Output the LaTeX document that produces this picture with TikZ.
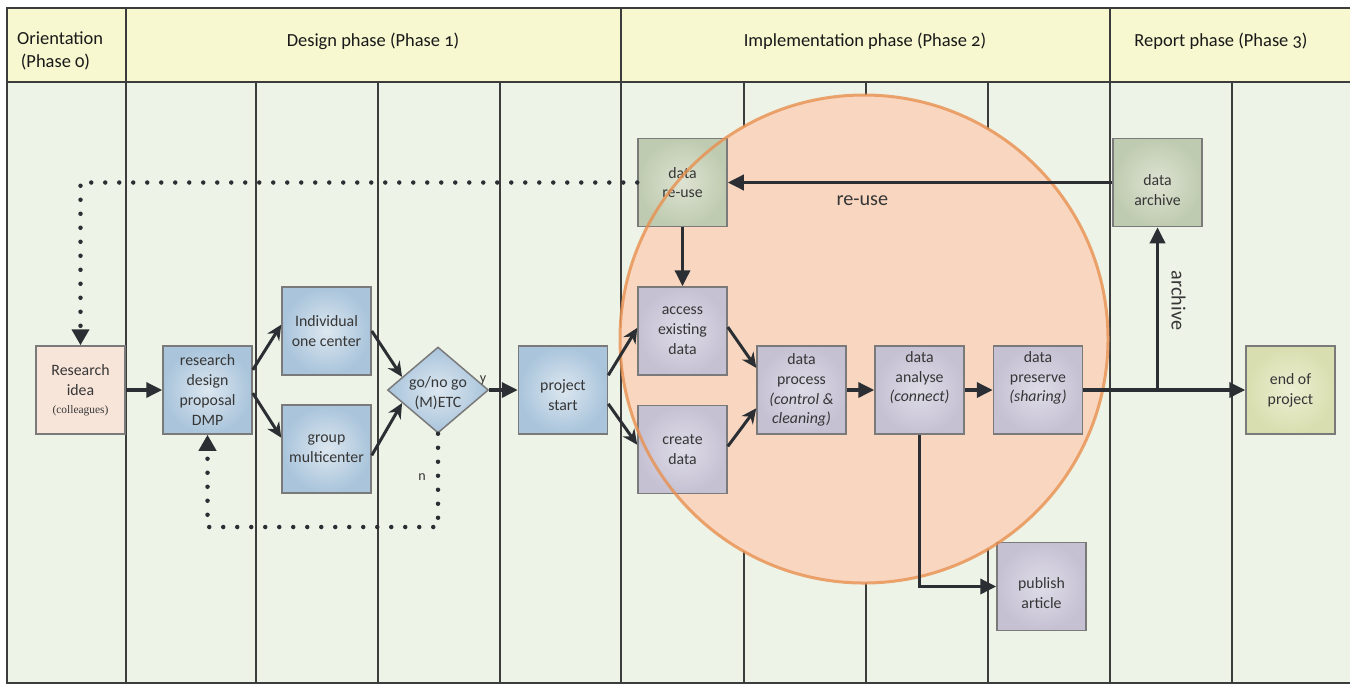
\documentclass[tikz,border=0pt]{standalone}
\usepackage{fontspec}
\setmainfont{Carlito}
\newfontfamily\headfont[Numbers=OldStyle]{Carlito}
\newfontfamily\tinyserif{Liberation Serif}
\usepackage{tikz}
\usetikzlibrary{arrows.meta,shapes.geometric}

\definecolor{headfill}{HTML}{F7F7D0}
\definecolor{bodyfill}{HTML}{EEF3E7}
\definecolor{gridcol}{HTML}{3C3C3C}
\definecolor{circfill}{HTML}{F8D6C0}
\definecolor{circedge}{HTML}{E8904F}
\definecolor{boxedge}{HTML}{7A7A7A}
\definecolor{boxtext}{HTML}{363636}
\definecolor{arrowcol}{HTML}{2B2F33}
\definecolor{ideafill}{HTML}{F8E5DA}
\definecolor{blueinner}{HTML}{DCE7F0}
\definecolor{blueouter}{HTML}{A9C4DB}
\definecolor{greeninner}{HTML}{DDE3D2}
\definecolor{greenouter}{HTML}{BFCBB0}
\definecolor{lavinner}{HTML}{DFDCE8}
\definecolor{lavouter}{HTML}{C5C1D3}
\definecolor{endinner}{HTML}{ECEFD2}
\definecolor{endouter}{HTML}{D8DEAF}

\tikzset{
  lane/.style={draw=gridcol,line width=0.3mm},
  headtext/.style={font=\headfont\fontsize{10.5}{13}\selectfont,text=black!90},
  box/.style={rectangle,draw=boxedge,line width=0.3mm,minimum width=17.8mm,minimum height=17.6mm,
    inner sep=1pt,align=center,text=boxtext,font=\fontsize{9}{11.3}\selectfont},
  ideabox/.style={box,fill=ideafill},
  bluebox/.style={box,shading=radial,inner color=blueinner,outer color=blueouter},
  greenbox/.style={box,shading=radial,inner color=greeninner,outer color=greenouter},
  lavbox/.style={box,shading=radial,inner color=lavinner,outer color=lavouter},
  endbox/.style={box,shading=radial,inner color=endinner,outer color=endouter},
  decision/.style={diamond,draw=boxedge,line width=0.3mm,minimum width=20.2mm,minimum height=17.2mm,
    inner sep=0pt,shading=radial,inner color=blueinner,outer color=blueouter},
  boxlabel/.style={align=center,text=boxtext,font=\fontsize{9}{11.3}\selectfont},
  flow/.style={draw=arrowcol,line width=0.7mm,-{Triangle[length=3.2mm,width=3mm]}},
  slant/.style={draw=arrowcol,line width=0.6mm,-{Stealth[length=3mm,width=2.8mm]}},
  dots/.style={draw=arrowcol,line width=0.9mm,line cap=round,dash pattern=on 0pt off 2.8mm,
    -{Triangle[length=3.2mm,width=3.4mm]}},
  edgetext/.style={text=boxtext,font=\fontsize{11.5}{13}\selectfont},
}

\begin{document}
\begin{tikzpicture}[x=0.2mm,y=-0.2mm]
\useasboundingbox (0,0) rectangle (1350,686);
\fill[white] (0,0) rectangle (1350,686);

% swimlanes
\fill[headfill] (7,8) rectangle (1350,82);
\fill[bodyfill] (7,82) rectangle (1350,683);
\draw[lane] (1350,8) -- (7,8) -- (7,683) -- (1350,683);
\draw[lane] (7,82) -- (1350,82);
\draw[lane] (126,8) -- (126,683);
\draw[lane] (621,8) -- (621,683);
\draw[lane] (1110,8) -- (1110,683);
\draw[lane] (256,82) -- (256,683);
\draw[lane] (378,82) -- (378,683);
\draw[lane] (500,82) -- (500,683);
\draw[lane] (744,82) -- (744,683);
\draw[lane] (866,82) -- (866,683);
\draw[lane] (988,82) -- (988,683);
\draw[lane] (1232,82) -- (1232,683);

\node (orient_label)	at (11,51)	[anchor=west,headtext,align=left] {Orientation\\\hspace{0.2em}(Phase 0)};
\node (design_label)	at (373,41)	[headtext] {Design phase (Phase 1)};
\node (impl_label)	at (865,41)	[headtext] {Implementation phase (Phase 2)};
\node (report_label)	at (1221,41)	[headtext] {Report phase (Phase 3)};

% implementation circle
\fill[circfill] (864,339) circle [radius=48.8mm];

\node (idea)		at (80.5,390)	[ideabox] {Research\\idea\\[-1pt]{\tinyserif\fontsize{6.5}{8}\selectfont(colleagues)}};
\node (design)		at (207.5,390)	[bluebox] {research\\design\\proposal\\DMP};
\node (individual)	at (326.5,331)	[bluebox] {Individual\\one center};
\node (group)		at (326.5,449)	[bluebox] {group\\multicenter};
\node (gonogo)		at (438,390)	[decision] {};
\node (gonogo_text)	at (438,393)	[boxlabel] {go/no go\\(M)ETC};
\node (start)		at (563,390)	[bluebox] {\\[1pt]project\\start};
\node (reuse)		at (682.5,182.5)	[greenbox] {data\\re-use};
\node (access)		at (682.5,331)	[lavbox] {access\\existing\\data};
\node (create)		at (682.5,449.5)	[lavbox] {create\\data};
\node (process)		at (801.5,390)	[lavbox] {data\\process\\\textit{(control \&}\\\textit{cleaning)}};
\node (analyse)		at (919.5,390)	[lavbox] {data\\analyse\\\textit{(connect)}\\[4pt]};
\node (preserve)	at (1038,390)	[lavbox] {data\\preserve\\\textit{(sharing)}\\[4pt]};
\node (publish)		at (1041.5,586.5)	[lavbox] {\\[2pt]publish\\article};
\node (archive)		at (1157.5,182.5)	[greenbox] {\\[4pt]data\\archive};
\node (endp)		at (1290.5,390)	[endbox] {end of\\project};

\draw[circedge,line width=0.6mm,opacity=0.8] (864,339) circle [radius=48.8mm];

\node (y_label)	at (483,380)	[text=boxtext,font=\fontsize{8}{9}\selectfont] {y};
\node (n_label)	at (422,477)	[text=boxtext,font=\fontsize{8}{9}\selectfont] {n};

\coordinate (loopback) at (438,527);
\coordinate (split) at (archive.south |- preserve.east);

\draw[dots] (reuse.west) -| (idea.north);
\draw[dots] (gonogo.south) -- (loopback) -| (design.south);
\draw[flow] (idea) -- (design);
\draw[slant] (design.24) -- (individual.172);
\draw[slant] (design.-4) -- (group.166);
\draw[slant] (individual.east) -- (gonogo.160);
\draw[slant] (group.-8) -- (gonogo.200);
\draw[flow] (gonogo.east) -- (start.west);
\draw[slant] (start.18) -- (access.176);
\draw[slant] (start.-17) -- (create.174);
\draw[flow] (reuse) -- (access);
\draw[slant] (access.5) -- (process.154);
\draw[slant] (create.4) -- (process.202);
\draw[flow] (process) -- (analyse);
\draw[flow] (analyse) -- (preserve);
\draw[flow] (analyse.south) |- (publish.west);
\draw[flow] (preserve.east) -- (endp.west);
\draw[flow] (split) -- node[pos=0.55,xshift=4.2mm,rotate=-90,edgetext]{archive} (archive.south);
\draw[flow] (archive.west) -- node[pos=0.65,below=1.2mm,edgetext]{re-use} (reuse.east);

\end{tikzpicture}
\end{document}
